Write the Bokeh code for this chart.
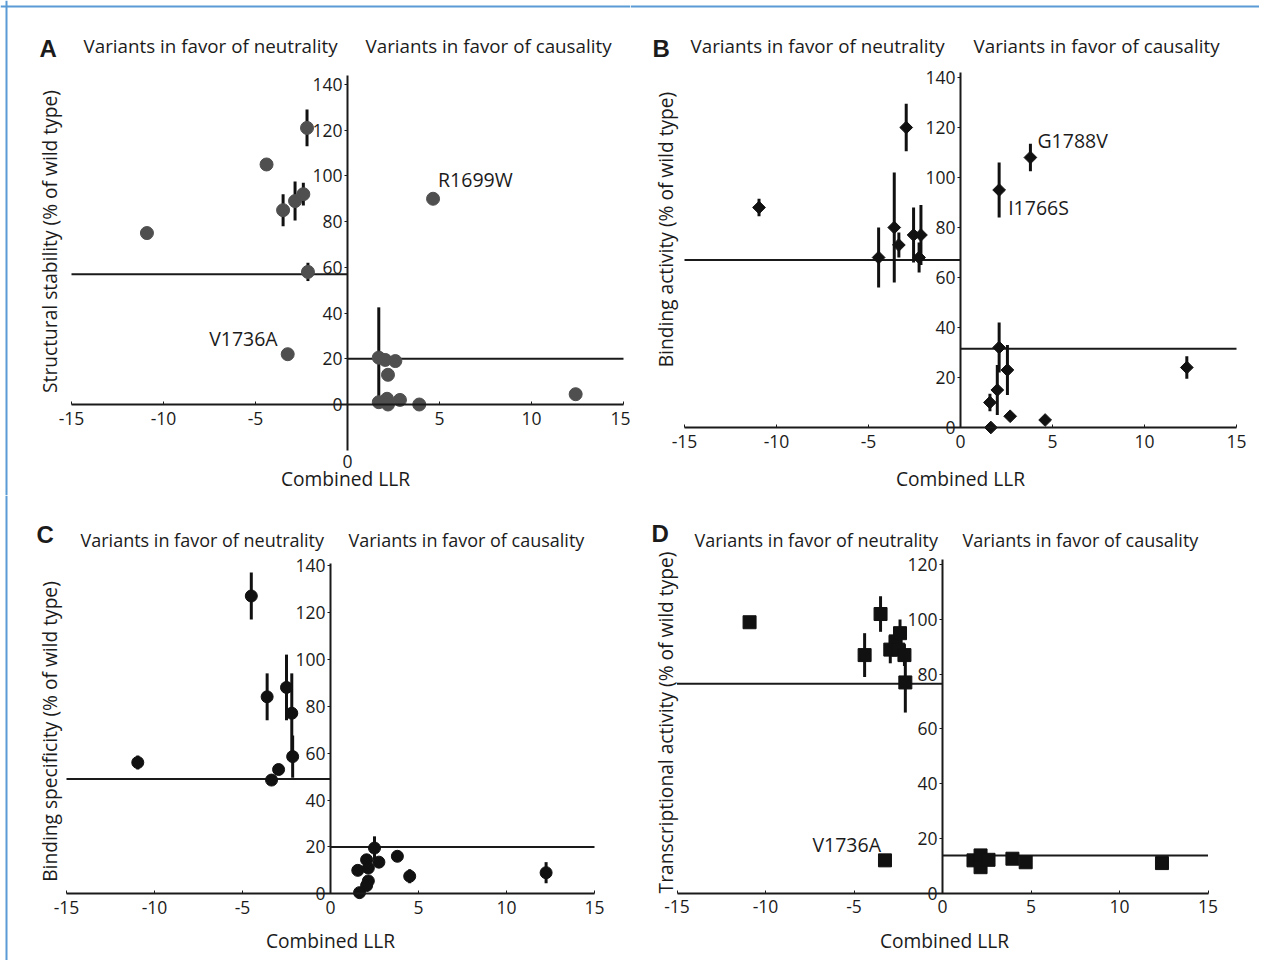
import math
from bokeh.plotting import figure
from bokeh.models import LinearAxis, FixedTicker, Range1d, Label, Span
from bokeh.layouts import column, row
from bokeh.embed import file_html
from bokeh.resources import INLINE
from bokeh.core.properties import value

FONT = "Open Sans"
TXT = "#1b1b1b"
BORDER = "#5b9bd5"

# ---------------- Data ----------------
X_TICKS = [-15, -10, -5, 0, 5, 10, 15]
HEAD_NEUTRAL = "Variants in favor of neutrality"
HEAD_CAUSAL = "Variants in favor of causality"
X_TITLE = "Combined LLR"

# Panel A: structural stability
A_x = [-10.9, -4.4, -3.5, -2.85, -2.4, -2.2, -2.15, -3.25,
       4.65, 1.7, 2.05, 2.6, 2.2, 1.7, 2.15, 2.2, 2.85, 3.9, 12.4]
A_y = [75, 105, 85, 89, 92, 121, 58, 22,
       90, 20.5, 19.5, 19, 13, 1, 2.5, 0, 2, 0, 4.5]
A_err = [0, 0, 7, 8.5, 5, 8, 4, 0,
         0, 22, 0, 0, 0, 0, 0, 0, 0, 0, 0]
A_thr = [57, 20]
A_yticks = [0, 20, 40, 60, 80, 100, 120, 140]
A_names = ["R1699W", "V1736A"]
A_name_x = [4.65, -3.25]
A_name_y = [90, 22]

# Panel B: binding activity
B_x = [-10.95, -4.45, -3.6, -3.35, -2.95, -2.55, -2.15, -2.25,
       3.8, 2.1, 2.1, 2.55, 2.0, 1.6, 2.7, 4.6, 1.65, 12.3]
B_y = [88, 68, 80, 73, 120, 77, 77, 68,
       108, 95, 32, 23, 15, 10, 4.5, 3, 0, 24]
B_err = [3.5, 12, 22, 5, 9.5, 11, 12, 6,
         5.5, 11, 10, 10, 10, 3.5, 0, 0, 0, 4.5]
B_thr = [67, 31.5]
B_yticks = [0, 20, 40, 60, 80, 100, 120, 140]
B_names = ["G1788V", "I1766S"]
B_name_x = [3.8, 2.1]
B_name_y = [108, 95]

# Panel C: binding specificity
C_x = [-10.95, -4.5, -3.6, -3.35, -2.95, -2.5, -2.2, -2.15,
       2.5, 2.05, 2.75, 3.8, 1.55, 2.15, 2.15, 2.05, 1.65, 4.5, 12.25]
C_y = [56, 127, 84, 48.5, 53, 88, 77, 58.5,
       19.5, 14.5, 13.5, 16, 10, 11, 5.5, 3.5, 0.5, 7.5, 9]
C_err = [3, 10, 10, 0, 0, 14, 17, 9,
         5, 0, 0, 0, 0, 0, 0, 0, 0, 3, 4.5]
C_thr = [49, 20]
C_yticks = [0, 20, 40, 60, 80, 100, 120, 140]

# Panel D: transcriptional activity
D_x = [-10.9, -3.5, -4.4, -2.95, -2.65, -2.4, -2.5, -2.15, -2.1, -3.25,
       1.75, 2.15, 2.15, 2.6, 3.95, 4.7, 12.4]
D_y = [99, 102, 87, 89, 92, 95, 89, 87, 77, 12,
       12, 13.8, 9.5, 12.2, 12.6, 11.3, 11]
D_err = [0, 6.5, 8, 5, 5, 5, 0, 4, 11, 0,
         0, 0, 0, 0, 0, 0, 0]
D_thr = [76.5, 13.8]
D_yticks = [0, 20, 40, 60, 80, 100, 120]
D_names = ["V1736A"]
D_name_x = [-3.25]
D_name_y = [12]


def make_panel(cfg):
    W, H, left, top = cfg["W"], cfg["H"], cfg["left"], cfg["top"]
    x0, xs, y0, ys = cfg["x0"], cfg["xs"], cfg["y0"], cfg["ys"]
    xr = Range1d((left - x0) / xs, (left + W - x0) / xs)
    yr = Range1d((y0 - (top + H)) / ys, (y0 - top) / ys)
    p = figure(width=W, height=H, x_range=xr, y_range=yr,
               x_axis_type=None, y_axis_type=None,
               toolbar_location=None, output_backend="svg",
               min_border=0, outline_line_color=None)

    def sx(px):
        return px - left

    def sy(py):
        return H - (py - top)

    def lab(px, py, text, size, align="left", baseline="alphabetic",
            angle=0.0, style="normal", font=FONT):
        p.add_layout(Label(x=sx(px), y=sy(py), x_units="screen", y_units="screen",
                           text=text, text_font=font, text_font_size=size,
                           text_font_style=style, text_color=TXT,
                           text_align=align, text_baseline=baseline, angle=angle))

    # threshold lines
    thr = cfg["thr"]
    p.segment(x0=[-15, 0], y0=thr, x1=[0, 15], y1=thr,
              line_color="#1a1a1a", line_width=2)

    # error bars
    xs_d, ys_d, es_d = cfg["x"], cfg["y"], cfg["err"]
    ex = [x for x, e in zip(xs_d, es_d) if e > 0]
    elo = [y - e for y, e in zip(ys_d, es_d) if e > 0]
    ehi = [y + e for y, e in zip(ys_d, es_d) if e > 0]
    p.segment(x0=ex, y0=elo, x1=ex, y1=ehi, line_color="#111111", line_width=3)

    # markers
    p.scatter(xs_d, ys_d, marker=cfg["marker"], size=cfg["size"],
              angle=cfg.get("angle", 0.0),
              fill_color=cfg["color"], line_color=cfg["color"], line_width=1)

    # axes
    xa = LinearAxis(fixed_location=0, bounds=(-15, 15),
                    ticker=FixedTicker(ticks=cfg["xticks"]))
    xa.major_label_overrides = {t: str(t) for t in cfg["xticks"]}
    ya = LinearAxis(fixed_location=0, bounds=cfg["ybounds"],
                    ticker=FixedTicker(ticks=cfg["yticks"]))
    for ax in (xa, ya):
        ax.axis_line_color = "#1a1a1a"
        ax.axis_line_width = 2
        ax.major_tick_line_color = "#1a1a1a"
        ax.major_tick_line_width = 1
        ax.minor_tick_line_color = None
        ax.major_label_text_font = FONT
        ax.major_label_text_font_size = cfg["tick_size"]
        ax.major_label_text_color = TXT
    xa.major_tick_in = 3
    xa.major_tick_out = 0
    xa.major_label_standoff = 7
    ya.major_tick_in = 0
    ya.major_tick_out = 3
    ya.major_label_standoff = 2
    p.add_layout(xa, "below")
    p.add_layout(ya, "left")

    # variant annotations
    for (name, nx, ny, dx, dy, al, bl) in cfg.get("annots", []):
        p.text(x=[nx], y=[ny], text=[name], text_font=value(FONT),
               text_font_size=cfg["annot_size"], text_color=TXT,
               x_offset=dx, y_offset=dy, text_align=al, text_baseline=bl)

    # headers
    hl = cfg["head"]
    lab(hl["letter_x"], hl["letter_y"], cfg["letter"], "24px",
        style="bold", font="Liberation Sans")
    lab(hl["neutral_x"], hl["text_y"], HEAD_NEUTRAL, hl["size"])
    lab(hl["causal_x"], hl["text_y"], HEAD_CAUSAL, hl["size"])

    # axis titles
    lab(cfg["ytitle_x"], cfg["ytitle_y"], cfg["ytitle"], cfg["title_size"],
        align="center", baseline="middle", angle=math.pi / 2)
    lab(cfg["xtitle_x"], cfg["xtitle_y"], X_TITLE, cfg["title_size"],
        align="center")
    for (t, px, py) in cfg.get("extra", []):
        lab(px, py, t, cfg["tick_size"], align="center")

    # frame border pieces (page position 6 px)
    if cfg.get("border_left"):
        p.add_layout(Span(location=(6 - x0) / xs, dimension="height",
                          line_color=BORDER, line_width=2))
    if cfg.get("border_top"):
        p.add_layout(Span(location=(y0 - 6) / ys, dimension="width",
                          line_color=BORDER, line_width=2))
    return p


TICK = "17.5px"
ANNOT = "19.5px"
TITLE = "19.2px"

pA = make_panel(dict(
    W=630, H=495, left=0, top=0, x0=347, xs=18.4, y0=404, ys=2.286,
    x=A_x, y=A_y, err=A_err, thr=A_thr, marker="circle", size=13, color="#4f4f4f",
    xticks=[-15, -10, -5, 5, 10, 15], yticks=A_yticks, ybounds=(-20, 144),
    tick_size=TICK, annot_size=ANNOT, title_size=TITLE,
    annots=[(A_names[0], A_name_x[0], A_name_y[0], 5, -6, "left", "bottom"),
            (A_names[1], A_name_x[1], A_name_y[1], -10, -2, "right", "bottom")],
    letter="A",
    head=dict(letter_x=39, letter_y=48, neutral_x=83, causal_x=365, text_y=45, size="18.8px"),
    ytitle="Structural stability (% of wild type)", ytitle_x=49, ytitle_y=241,
    xtitle_x=345, xtitle_y=478,
    extra=[("0", 347, 461)],
    border_left=True, border_top=True,
))

pB = make_panel(dict(
    W=629, H=495, left=630, top=0, x0=960, xs=18.4, y0=427, ys=2.5,
    x=B_x, y=B_y, err=B_err, thr=B_thr, marker="square", size=9, angle=math.pi / 4,
    color="#111111",
    xticks=X_TICKS, yticks=B_yticks, ybounds=(0, 142),
    tick_size=TICK, annot_size=ANNOT, title_size=TITLE,
    annots=[(B_names[0], B_name_x[0], B_name_y[0], 7, -4, "left", "bottom"),
            (B_names[1], B_name_x[1], B_name_y[1], 9, 4, "left", "top")],
    letter="B",
    head=dict(letter_x=652, letter_y=48, neutral_x=690, causal_x=973, text_y=45, size="18.8px"),
    ytitle="Binding activity (% of wild type)", ytitle_x=665, ytitle_y=229,
    xtitle_x=960, xtitle_y=478,
    border_top=True,
))

pC = make_panel(dict(
    W=630, H=465, left=0, top=495, x0=330, xs=17.6, y0=893.3, ys=2.345,
    x=C_x, y=C_y, err=C_err, thr=C_thr, marker="circle", size=12, color="#111111",
    xticks=X_TICKS, yticks=C_yticks, ybounds=(0, 141),
    tick_size=TICK, annot_size=ANNOT, title_size=TITLE,
    letter="C",
    head=dict(letter_x=36, letter_y=534, neutral_x=80, causal_x=348, text_y=539, size="18px"),
    ytitle="Binding specificity (% of wild type)", ytitle_x=49, ytitle_y=731,
    xtitle_x=330, xtitle_y=940,
    border_left=True,
))

pD = make_panel(dict(
    W=629, H=465, left=630, top=495, x0=942, xs=17.7, y0=892.7, ys=2.737,
    x=D_x, y=D_y, err=D_err, thr=D_thr, marker="square", size=13, color="#111111",
    xticks=X_TICKS, yticks=D_yticks, ybounds=(0, 122),
    tick_size=TICK, annot_size=ANNOT, title_size=TITLE,
    annots=[(D_names[0], D_name_x[0], D_name_y[0], -4, -2, "right", "bottom")],
    letter="D",
    head=dict(letter_x=651, letter_y=533, neutral_x=694, causal_x=962, text_y=539, size="18px"),
    ytitle="Transcriptional activity (% of wild type)", ytitle_x=665, ytitle_y=722,
    xtitle_x=944, xtitle_y=940,
))

layout = column(row(pA, pB, spacing=0), row(pC, pD, spacing=0), spacing=0)

with open("out.html", "w") as f:
    f.write(file_html(layout, INLINE))
